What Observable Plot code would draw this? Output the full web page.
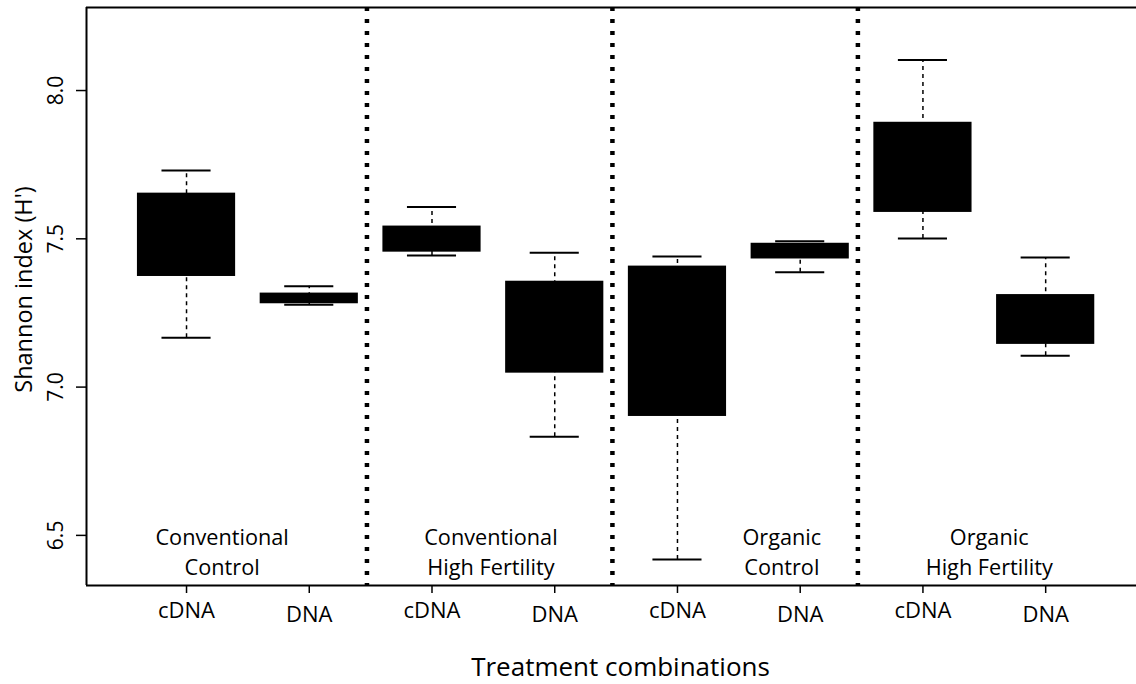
<!DOCTYPE html>
<html><head><meta charset="utf-8">
<script src="https://cdn.jsdelivr.net/npm/d3@7"></script>
<script src="https://cdn.jsdelivr.net/npm/@observablehq/plot@0.6"></script>
<style>
html,body{margin:0;padding:0;background:#fff;}
#chart{width:1136px;height:684px;overflow:hidden}
</style></head><body><div id="chart"></div>
<script>
// Box positions and categories
const positions = [1, 2, 3, 4, 5, 6, 7, 8];
const nucleic = ["cDNA", "DNA", "cDNA", "DNA", "cDNA", "DNA", "cDNA", "DNA"];
const treatment = ["Conventional Control", "Conventional Control", "Conventional High Fertility", "Conventional High Fertility",
                   "Organic Control", "Organic Control", "Organic High Fertility", "Organic High Fertility"];
// Box statistics (Shannon index H')
const whiskerLow  = [7.166, 7.278, 7.444, 6.833, 6.419, 7.387, 7.501, 7.106];
const quart1      = [7.373, 7.281, 7.455, 7.047, 6.901, 7.432, 7.589, 7.144];
const quart3      = [7.654, 7.317, 7.543, 7.357, 7.408, 7.485, 7.893, 7.312];
const whiskerHigh = [7.730, 7.340, 7.607, 7.453, 7.440, 7.492, 8.103, 7.437];
// Group annotations
const groupLabels = ["Conventional\nControl", "Conventional\nHigh Fertility", "Organic\nControl", "Organic\nHigh Fertility"];
const groupLabelX = [1.29, 3.48, 5.85, 7.54];
const separators = [2.47, 4.47, 6.47];
const yTicks = [6.5, 7.0, 7.5, 8.0];
const cdnaTicks = [1, 3, 5, 7];
const dnaTicks = [2, 4, 6, 8];

const xDomain = [0.185, 8.74];
const yDomain = [6.331, 8.28];

const data = positions.map((p, i) => ({
  pos: p, type: nucleic[i], group: treatment[i],
  lo: whiskerLow[i], q1: quart1[i], q3: quart3[i], hi: whiskerHigh[i]
}));

const font = "'Open Sans', sans-serif";

const chart = Plot.plot({
  width: 1136, height: 684,
  marginLeft: 86, marginRight: 0, marginTop: 7, marginBottom: 99,
  x: {domain: xDomain},
  y: {domain: yDomain},
  style: {fontFamily: font, background: "#fff", color: "#000"},
  marks: [
    Plot.ruleX(data, {x: "pos", y1: "lo", y2: "hi", stroke: "#000", strokeWidth: 1.5, strokeDasharray: "4,4"}),
    Plot.ruleY(data, {y: "hi", x1: d => d.pos - 0.2, x2: d => d.pos + 0.2, stroke: "#000", strokeWidth: 2}),
    Plot.ruleY(data, {y: "lo", x1: d => d.pos - 0.2, x2: d => d.pos + 0.2, stroke: "#000", strokeWidth: 2}),
    Plot.rect(data, {x1: d => d.pos - 0.4, x2: d => d.pos + 0.4, y1: "q1", y2: "q3", fill: "#000"}),
    Plot.ruleX(separators, {stroke: "#000", strokeWidth: 4.5, strokeDasharray: "4,8"}),
    Plot.ruleX([xDomain[0]], {stroke: "#000", strokeWidth: 2}),
    Plot.ruleY([yDomain[0], yDomain[1]], {stroke: "#000", strokeWidth: 2}),
    Plot.axisY({ticks: yTicks, tickFormat: d3.format(".1f"), tickSize: 10, tickRotate: -90, tickPadding: 14,
                fontSize: 21, label: null, strokeWidth: 1.5}),
    Plot.axisX({ticks: cdnaTicks, tickFormat: () => "cDNA", tickSize: 8, tickPadding: 9, fontSize: 22, label: null, strokeWidth: 1.5}),
    Plot.axisX({ticks: dnaTicks, tickFormat: () => "DNA", tickSize: 8, tickPadding: 13, fontSize: 22, label: null, strokeWidth: 1.5}),
    Plot.text(groupLabels, {x: groupLabelX, y: 6.537, text: d => d, lineAnchor: "top", lineHeight: 1.36,
                            fontSize: 21.7, fill: "#000"}),
    Plot.text(["Shannon index (H')"], {frameAnchor: "left", dx: -62, dy: -7, rotate: -90, textAnchor: "middle",
                                       lineAnchor: "middle", fontSize: 23.5, fill: "#000"}),
    Plot.text(["Treatment combinations"], {frameAnchor: "bottom", dx: 9, dy: 82, textAnchor: "middle",
                                           lineAnchor: "middle", fontSize: 26, fill: "#000"})
  ]
});
document.getElementById("chart").appendChild(chart);
</script>
</body></html>
